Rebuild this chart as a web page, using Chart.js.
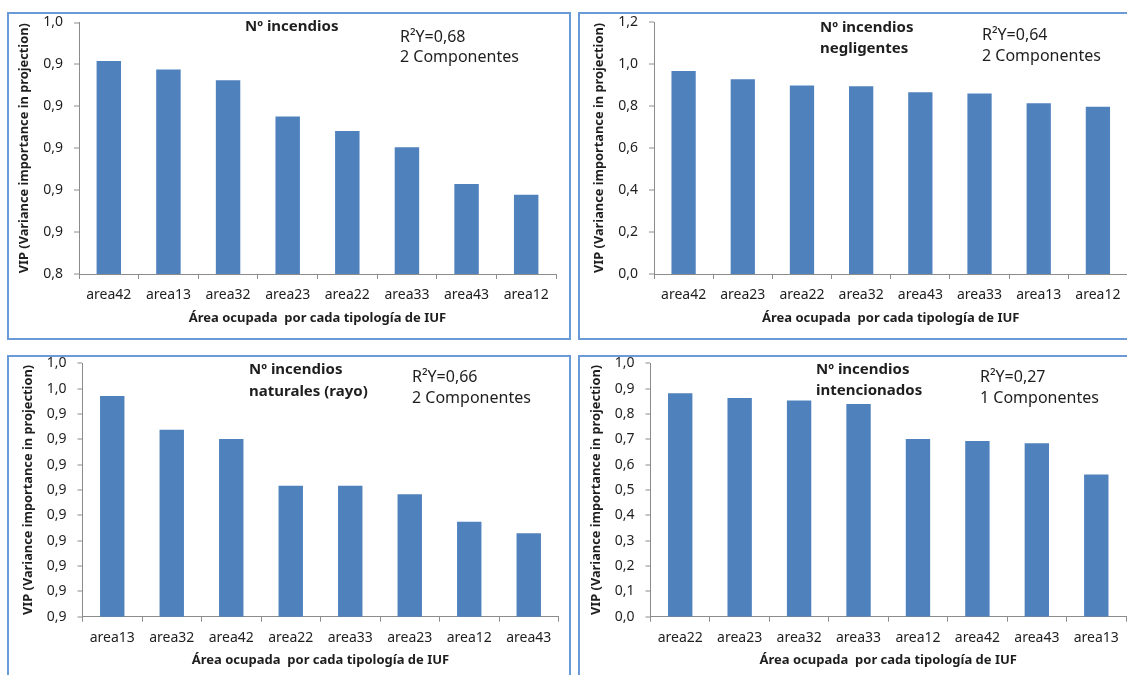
<!DOCTYPE html>
<html>
<head>
<meta charset="utf-8">
<script src="https://cdn.jsdelivr.net/npm/chart.js@4.4.1/dist/chart.umd.min.js"></script>
<style>
  html, body { margin: 0; padding: 0; background: #fff; overflow: hidden; width: 1127px; height: 675px; }
  .box { position: absolute; box-sizing: border-box; border: 2px solid #6a9bd8; }
  canvas { position: absolute; }
</style>
</head>
<body>
<div class="box" style="left:7px;top:12px;width:564px;height:328px"></div>
<div class="box" style="left:578px;top:12px;width:560px;height:328px"></div>
<div class="box" style="left:7px;top:355px;width:564px;height:340px"></div>
<div class="box" style="left:578px;top:355px;width:560px;height:340px"></div>
<script>
// Nº incendios
const labels1 = ["area42", "area13", "area32", "area23", "area22", "area33", "area43", "area12"];
const values1 = [0.9416, 0.9376, 0.9325, 0.9151, 0.9082, 0.9005, 0.8830, 0.8778];
const yAxis1 = [0.84, 0.96, 0.02]; // min, max, step
const notes1 = ["Nº incendios", "R²Y=0,68", "2 Componentes"];

// Nº incendios negligentes
const labels2 = ["area42", "area23", "area22", "area32", "area43", "area33", "area13", "area12"];
const values2 = [0.967, 0.927, 0.898, 0.894, 0.865, 0.859, 0.813, 0.797];
const yAxis2 = [0, 1.2, 0.2];
const notes2 = ["Nº incendios", "negligentes", "R²Y=0,64", "2 Componentes"];

// Nº incendios naturales (rayo)
const labels3 = ["area13", "area32", "area42", "area22", "area33", "area23", "area12", "area43"];
const values3 = [0.9471, 0.9338, 0.9301, 0.9117, 0.9117, 0.9083, 0.8975, 0.8929];
const yAxis3 = [0.86, 0.96, 0.01];
const notes3 = ["Nº incendios", "naturales (rayo)", "R²Y=0,66", "2 Componentes"];

// Nº incendios intencionados
const labels4 = ["area22", "area23", "area32", "area33", "area12", "area42", "area43", "area13"];
const values4 = [0.882, 0.863, 0.853, 0.839, 0.701, 0.693, 0.684, 0.561];
const yAxis4 = [0, 1.0, 0.1];
const notes4 = ["Nº incendios", "intencionados", "R²Y=0,27", "1 Componentes"];

const xTitle = "Área ocupada  por cada tipología de IUF";
const yTitle = "VIP (Variance importance in projection)";

const FONT = "'Noto Sans', sans-serif";
const TEXT = "#1e1e1e";
const AXIS = "#8c8c8c";
const BOLD = "bold 15px " + FONT;
const REG = "16px " + FONT;

function fmt(v) {
  return (Math.round(v * 10 + 1e-6) / 10).toFixed(1).replace(".", ",");
}

function notesPlugin(items, ox, oy) {
  return {
    id: "notes",
    afterDraw(chart) {
      const ctx = chart.ctx;
      ctx.save();
      ctx.fillStyle = TEXT;
      ctx.textAlign = "left";
      ctx.textBaseline = "middle";
      items.forEach(n => {
        ctx.font = n.font;
        ctx.fillText(n.text, n.x - ox, n.y - oy);
      });
      ctx.restore();
    }
  };
}

// plot = [left, top, right, bottom] in page pixels
function makePanel(boxLeft, plot, labels, values, yAxis, notes) {
  const [L, T, R, B] = plot;
  const x = boxLeft + 2;
  const y = Math.round(T - 22);
  const w = Math.round(R + 14 - x);
  const h = Math.round(B + 65 - y);

  const canvas = document.createElement("canvas");
  canvas.width = w;
  canvas.height = h;
  canvas.style.left = x + "px";
  canvas.style.top = y + "px";
  document.body.appendChild(canvas);

  new Chart(canvas.getContext("2d"), {
    type: "bar",
    data: {
      labels: labels,
      datasets: [{
        data: values,
        backgroundColor: "#4f81bd",
        barPercentage: 0.41,
        categoryPercentage: 1.0
      }]
    },
    options: {
      responsive: false,
      animation: false,
      devicePixelRatio: 1,
      layout: { padding: { left: L - x - 62, top: T - y, right: x + w - R, bottom: h - (B - y) - 63 } },
      plugins: { legend: { display: false }, tooltip: { enabled: false } },
      scales: {
        x: {
          offset: true,
          grid: { drawOnChartArea: false, drawTicks: true, tickLength: 5, color: AXIS, offset: true },
          border: { display: true, color: AXIS },
          ticks: { font: { family: FONT, size: 14 }, color: TEXT, padding: 8, maxRotation: 0, autoSkip: false },
          title: {
            display: true, text: xTitle, color: TEXT,
            font: { family: FONT, size: 13, weight: "bold" },
            padding: { top: 0, bottom: 11.2 }
          },
          afterFit(s) { s.height = 63; }
        },
        y: {
          min: yAxis[0],
          max: yAxis[1],
          grid: { drawOnChartArea: false, drawTicks: true, tickLength: 5, color: AXIS, lineWidth: 0, tickWidth: 1 },
          border: { display: true, color: AXIS, width: 1 },
          ticks: { stepSize: yAxis[2], callback: fmt, font: { family: FONT, size: 14 }, color: TEXT, padding: 11 },
          title: {
            display: true, text: yTitle, color: TEXT,
            font: { family: FONT, size: 12.8, weight: "bold" },
            padding: 0
          },
          afterFit(s) { s.width = 62; }
        }
      }
    },
    plugins: [notesPlugin(notes, x, y)]
  });
}

makePanel(7, [79, 22.5, 556, 274], labels1, values1, yAxis1, [
  { text: notes1[0], x: 245, y: 27, font: BOLD },
  { text: notes1[1], x: 400, y: 37, font: REG },
  { text: notes1[2], x: 400, y: 57, font: REG }
]);
makePanel(578, [654, 22, 1127.5, 274], labels2, values2, yAxis2, [
  { text: notes2[0], x: 820, y: 28, font: BOLD },
  { text: notes2[1], x: 820, y: 49, font: BOLD },
  { text: notes2[2], x: 982, y: 35, font: REG },
  { text: notes2[3], x: 982, y: 56, font: REG }
]);
makePanel(7, [82.5, 363.3, 558.5, 616.7], labels3, values3, yAxis3, [
  { text: notes3[0], x: 249, y: 370, font: BOLD },
  { text: notes3[1], x: 249, y: 392, font: BOLD },
  { text: notes3[2], x: 412, y: 377, font: REG },
  { text: notes3[3], x: 412, y: 398, font: REG }
]);
makePanel(578, [650.5, 363.3, 1126, 616.7], labels4, values4, yAxis4, [
  { text: notes4[0], x: 816, y: 370, font: BOLD },
  { text: notes4[1], x: 816, y: 391, font: BOLD },
  { text: notes4[2], x: 980, y: 377, font: REG },
  { text: notes4[3], x: 980, y: 398, font: REG }
]);
</script>
</body>
</html>
